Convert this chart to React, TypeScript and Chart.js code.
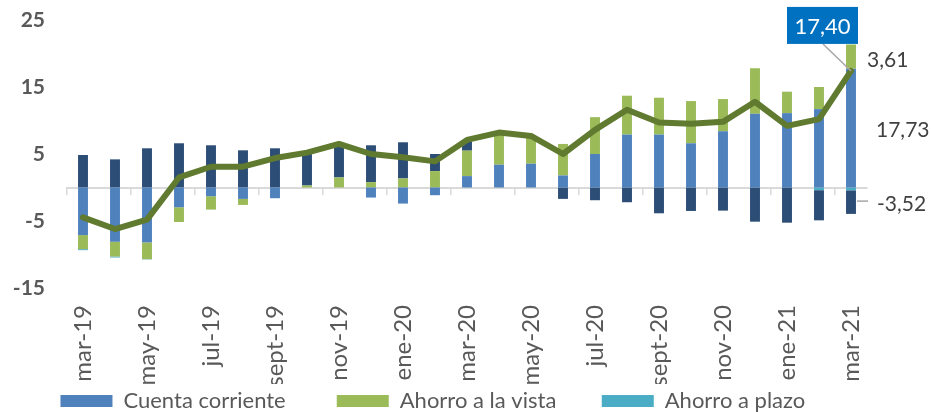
import { useEffect, useRef } from 'react';
import { Chart, registerables } from 'chart.js';

Chart.register(...registerables);

const months = [
  'mar-19', 'abr-19', 'may-19', 'jun-19', 'jul-19', 'ago-19', 'sept-19', 'oct-19', 'nov-19',
  'dic-19', 'ene-20', 'feb-20', 'mar-20', 'abr-20', 'may-20', 'jun-20', 'jul-20', 'ago-20',
  'sept-20', 'oct-20', 'nov-20', 'dic-20', 'ene-21', 'feb-21', 'mar-21',
];
const shownLabels = [
  'mar-19', 'may-19', 'jul-19', 'sept-19', 'nov-19', 'ene-20', 'mar-20', 'may-20', 'jul-20',
  'sept-20', 'nov-20', 'ene-21', 'mar-21',
];
const cuentaCorriente = [
  -7.1, -8.1, -8.2, -2.95, -1.3, -1.7, -1.6, 0, 0, -1.5, -2.4, -1.15, 1.7, 3.4, 3.55, 1.8, 5.0,
  7.9, 7.9, 6.6, 8.4, 11.0, 11.1, 11.7, 17.73,
];
const ahorroVista = [
  -2.1, -2.2, -2.5, -2.2, -2.0, -0.9, 0, 0.3, 1.5, 0.8, 1.35, 2.45, 3.8, 4.8, 4.05, 4.7, 5.5,
  5.8, 5.5, 6.3, 4.8, 6.8, 3.2, 3.3, 3.61,
];
const ahorroPlazo = [
  -0.15, -0.15, -0.05, 0, 0, 0, 0, 0, 0, 0, 0, 0, 0, 0, 0, 0, 0, 0, 0, 0, 0, 0, 0, -0.4, -0.42,
];
const otrosDepositos = [
  4.85, 4.2, 5.85, 6.6, 6.3, 5.55, 5.85, 4.7, 4.95, 5.5, 5.4, 2.55, 1.6, 0, 0, -1.7, -1.9, -2.2,
  -3.85, -3.5, -3.45, -5.1, -5.25, -4.5, -3.52,
];
const totalDepositos = [
  -4.45, -6.2, -4.8, 1.5, 3.1, 3.1, 4.4, 5.2, 6.5, 5.0, 4.5, 3.9, 7.1, 8.2, 7.7, 5.0, 8.6, 11.6,
  9.7, 9.5, 9.8, 12.8, 9.2, 10.2, 17.4,
];
const yMin = -15;
const yMax = 25;
const yStep = 10;

const FONT = 'Lato, "Open Sans", sans-serif';
const fmt = (v: number) => v.toFixed(2).replace('.', ',');
// trailing spaces widen the legend columns like the original's fixed columns
const legendPad = ['        ', '       ', '  '];

const lastLabels = {
  id: 'lastLabels',
  afterDatasetsDraw(chart: any) {
    const ctx = chart.ctx as CanvasRenderingContext2D;
    const i = months.length - 1;
    const blue = chart.getDatasetMeta(0).data[i] as any;
    const green = chart.getDatasetMeta(1).data[i] as any;
    const navy = chart.getDatasetMeta(3).data[i] as any;
    const pt = chart.getDatasetMeta(4).data[i] as any;
    ctx.save();
    ctx.font = `21px ${FONT}`;
    ctx.fillStyle = '#404040';
    ctx.textBaseline = 'middle';
    ctx.textAlign = 'left';
    const gMid = (green.y + green.base) / 2;
    ctx.fillText(fmt(ahorroVista[i]), blue.x + 16, gMid + 4);
    const bMid = (blue.y + blue.base) / 2;
    ctx.fillText(fmt(cuentaCorriente[i]), blue.x + 25, bMid + 2);
    const nMid = (navy.y + navy.base) / 2;
    ctx.fillText(fmt(otrosDepositos[i]), blue.x + 26, nMid + 2);
    ctx.strokeStyle = '#A6A6A6';
    ctx.lineWidth = 1.5;
    ctx.beginPath();
    ctx.moveTo(blue.x + 6, nMid - 1);
    ctx.lineTo(blue.x + 17, nMid - 1);
    ctx.stroke();
    const bw = 71;
    const bh = 37;
    const bx = pt.x - 64;
    const by = pt.y - 64;
    ctx.beginPath();
    ctx.moveTo(pt.x - 28, by + bh);
    ctx.lineTo(pt.x, pt.y);
    ctx.stroke();
    ctx.fillStyle = '#0070C0';
    ctx.fillRect(bx, by, bw, bh);
    ctx.fillStyle = '#FFFFFF';
    ctx.textAlign = 'center';
    ctx.font = `22px ${FONT}`;
    ctx.fillText(fmt(totalDepositos[i]), bx + bw / 2, by + bh / 2 + 1);
    ctx.restore();
  },
};

export default function App() {
  const ref = useRef<HTMLCanvasElement | null>(null);
  useEffect(() => {
    document.body.style.margin = '0';
    document.body.style.overflow = 'hidden';
    if (!ref.current) return;
    const barCommon = {
      type: 'bar' as const,
      stack: 'dep',
      order: 1,
      categoryPercentage: 1,
      barPercentage: 0.31,
    };
    const chart = new Chart(ref.current, {
      type: 'bar',
      data: {
        labels: months,
        datasets: [
          { ...barCommon, label: 'Cuenta corriente', data: cuentaCorriente, backgroundColor: '#4F81BD' },
          { ...barCommon, label: 'Ahorro a la vista', data: ahorroVista, backgroundColor: '#9BBB59' },
          { ...barCommon, label: 'Ahorro a plazo', data: ahorroPlazo, backgroundColor: '#4BACC6' },
          { ...barCommon, label: 'Otros depósitos', data: otrosDepositos, backgroundColor: '#2C4D75' },
          {
            type: 'line' as const,
            label: 'Total',
            data: totalDepositos,
            stack: 'total',
            order: 0,
            borderColor: '#607A30',
            backgroundColor: '#607A30',
            borderWidth: 6,
            pointRadius: 0,
            tension: 0,
            borderJoinStyle: 'round',
            borderCapStyle: 'round',
          } as any,
        ],
      },
      options: {
        responsive: false,
        animation: false,
        layout: { padding: { left: 10, right: 64, top: 20, bottom: 0 } },
        scales: {
          x: {
            stacked: true,
            offset: true,
            grid: { display: false, drawTicks: false },
            border: { display: false },
            ticks: {
              autoSkip: false,
              minRotation: 90,
              maxRotation: 90,
              padding: 17,
              color: '#595959',
              font: { family: FONT, size: 24 },
              callback: (_v: any, idx: number) => (idx % 2 === 0 ? shownLabels[idx / 2] : ''),
            },
            afterFit: (s: any) => {
              s.height = 96;
              s.paddingTop = 0;
              s.paddingBottom = 0;
            },
          },
          x2: {
            type: 'category',
            axis: 'x',
            position: { y: 0 } as any,
            labels: months,
            offset: true,
            grid: {
              offset: true,
              drawOnChartArea: false,
              drawTicks: true,
              tickLength: 6,
              lineWidth: 1.5,
              tickColor: (c: any) =>
                c.index % 2 === 0 && c.index < months.length ? '#D9D9D9' : 'rgba(0,0,0,0)',
            },
            border: { display: true, color: '#D9D9D9', width: 2 },
            ticks: { display: false, autoSkip: false },
            afterFit: (s: any) => {
              s.paddingTop = 0;
              s.paddingBottom = 0;
              s.paddingLeft = 0;
              s.paddingRight = 0;
            },
          } as any,
          y: {
            stacked: true,
            min: yMin,
            max: yMax,
            grid: { display: false, drawTicks: false },
            border: { display: false },
            ticks: {
              stepSize: yStep,
              padding: 22,
              color: '#595959',
              font: { family: FONT, size: 21, weight: 'bold' },
            },
            afterFit: (s: any) => {
              s.width = 57;
              s.paddingTop = 0;
              s.paddingBottom = 0;
            },
          },
        },
        plugins: {
          legend: {
            position: 'bottom',
            align: 'center',
            labels: {
              boxWidth: 52,
              boxHeight: 12,
              padding: 6,
              color: '#595959',
              font: { family: FONT, size: 22 },
              filter: (item: any) => item.datasetIndex < 3,
              generateLabels: (c: any) => {
                const items = (Chart.defaults.plugins.legend.labels as any).generateLabels(c);
                return items.map((it: any) =>
                  it.datasetIndex < 3 ? { ...it, text: it.text + legendPad[it.datasetIndex] } : it,
                );
              },
            },
          },
          tooltip: { enabled: false },
        },
      },
      plugins: [lastLabels],
    });
    return () => chart.destroy();
  }, []);
  return (
    <div style={{ width: 931, height: 412, overflow: 'hidden', background: '#fff' }}>
      <canvas ref={ref} width={931} height={422} style={{ display: 'block' }} />
    </div>
  );
}
